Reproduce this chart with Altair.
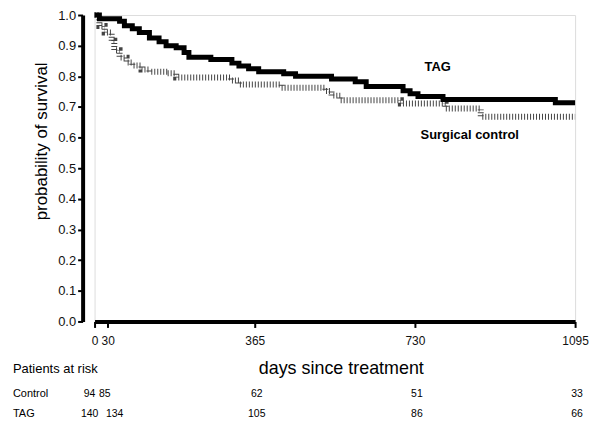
import altair as alt
import pandas as pd

# Kaplan-Meier steps
tag_days = [0, 11, 57, 68, 86, 102, 125, 147, 163, 186, 204, 215, 265, 313, 329, 351, 374, 431, 458, 540, 594, 619, 703, 719, 737, 794, 1050, 1095]
tag_surv = [1.0, 0.988, 0.98, 0.965, 0.955, 0.943, 0.925, 0.913, 0.90, 0.893, 0.878, 0.862, 0.855, 0.843, 0.834, 0.825, 0.815, 0.808, 0.80, 0.791, 0.782, 0.767, 0.753, 0.743, 0.734, 0.724, 0.714, 0.714]

ctl_days = [0, 11, 23, 39, 45, 57, 73, 86, 107, 125, 166, 186, 311, 329, 426, 526, 540, 560, 698, 800, 880, 1095]
ctl_surv = [1.0, 0.964, 0.943, 0.916, 0.885, 0.861, 0.845, 0.835, 0.822, 0.815, 0.81, 0.796, 0.786, 0.773, 0.763, 0.752, 0.737, 0.722, 0.711, 0.695, 0.668, 0.668]

x_ticks = [0, 30, 365, 730, 1095]
y_ticks = [0.0, 0.1, 0.2, 0.3, 0.4, 0.5, 0.6, 0.7, 0.8, 0.9, 1.0]

risk_days = [0, 30, 365, 730, 1095]
risk_control = [94, 85, 62, 51, 33]
risk_tag = [140, 134, 105, 86, 66]

W, H = 483, 308
FONT = "Liberation Sans"

tag_df = pd.DataFrame({"day": tag_days, "surv": tag_surv})
ctl_df = pd.DataFrame({"day": ctl_days, "surv": ctl_surv})

xs = alt.Scale(domain=[0, 1095], nice=False, zero=False)
ys = alt.Scale(domain=[0, 1], nice=False)

x_axis = alt.Axis(values=x_ticks, format="d", title=None, grid=False, domainWidth=4, domainColor="black",
                  tickColor="black", tickWidth=2, tickSize=6, labelFontSize=12, labelFont=FONT,
                  labelColor="#111", labelPadding=8, labelFlush=False, labelOverlap=False)
y_axis = alt.Axis(values=y_ticks, format=".1f", title=None, grid=False, offset=12, domainWidth=4,
                  domainColor="black", tickColor="black", tickWidth=2, tickSize=5, labelFontSize=13,
                  labelFont=FONT, labelColor="#111", labelPadding=2, labelOverlap=False,
                  tickCount=11)

base_ctl = alt.Chart(ctl_df).mark_line(interpolate="step-after", strokeWidth=6, strokeDash=[1, 2],
                                       color="#444").encode(
    x=alt.X("day:Q", scale=xs, axis=x_axis),
    y=alt.Y("surv:Q", scale=ys, axis=y_axis),
)
base_tag = alt.Chart(tag_df).mark_line(interpolate="step-after", strokeWidth=5, color="black").encode(
    x=alt.X("day:Q", scale=xs),
    y=alt.Y("surv:Q", scale=ys),
)

labels_df = pd.DataFrame({"day": [782, 855], "surv": [0.831, 0.607], "txt": ["TAG", "Surgical control"]})
labels = alt.Chart(labels_df).mark_text(fontWeight="bold", fontSize=13, font=FONT, color="black").encode(
    x=alt.X("day:Q", scale=xs), y=alt.Y("surv:Q", scale=ys), text="txt:N")

xtitle = alt.Chart(pd.DataFrame({"t": ["days since treatment"]})).mark_text(
    fontSize=18, font=FONT, color="black", baseline="alphabetic").encode(
    x=alt.value(248), y=alt.value(361), text="t:N")
ytitle = alt.Chart(pd.DataFrame({"t": ["probability of survival"]})).mark_text(
    fontSize=17, font=FONT, color="black", angle=270, baseline="middle").encode(
    x=alt.value(-53), y=alt.value(127), text="t:N")

risk_head = alt.Chart(pd.DataFrame({"t": ["Patients at risk"]})).mark_text(
    fontSize=13, font=FONT, color="black", align="left", baseline="middle").encode(
    x=alt.value(-82), y=alt.value(356), text="t:N")
row_df = pd.DataFrame({"t": ["Control", "TAG"], "yy": [381, 401]})
row_labels = alt.Chart(row_df).mark_text(fontSize=11, font=FONT, color="black", align="left",
                                         baseline="middle").encode(
    x=alt.value(-82), y=alt.Y("yy:Q", scale=None), text="t:N")

ctl_risk_df = pd.DataFrame({"day": risk_days, "n": risk_control})
tag_risk_df = pd.DataFrame({"day": risk_days, "n": risk_tag})


def risk_layer(df, yv, sel, dx):
    return alt.Chart(df).transform_filter(sel).mark_text(
        fontSize=10.5, font=FONT, color="black", baseline="middle", dx=dx).encode(
        x=alt.X("day:Q", scale=xs), y=alt.value(yv), text="n:Q")


risk_layers = [
    risk_layer(ctl_risk_df, 381, "datum.day == 0", -5),
    risk_layer(ctl_risk_df, 381, "datum.day == 30", -3),
    risk_layer(ctl_risk_df, 381, "datum.day > 30", 2),
    risk_layer(tag_risk_df, 401, "datum.day == 0", -5),
    risk_layer(tag_risk_df, 401, "datum.day == 30", 7),
    risk_layer(tag_risk_df, 401, "datum.day > 30", 2),
]

chart = alt.layer(base_ctl, base_tag, labels, xtitle, ytitle, risk_head, row_labels, *risk_layers).properties(
    width=W, height=H,
    autosize=alt.AutoSizeParams(type="none"),
    padding={"left": 87, "top": 6, "right": 18, "bottom": 100},
).configure_view(stroke=None).configure(background="white")

chart.save("out.html", embed_options={"renderer": "svg", "actions": False})
